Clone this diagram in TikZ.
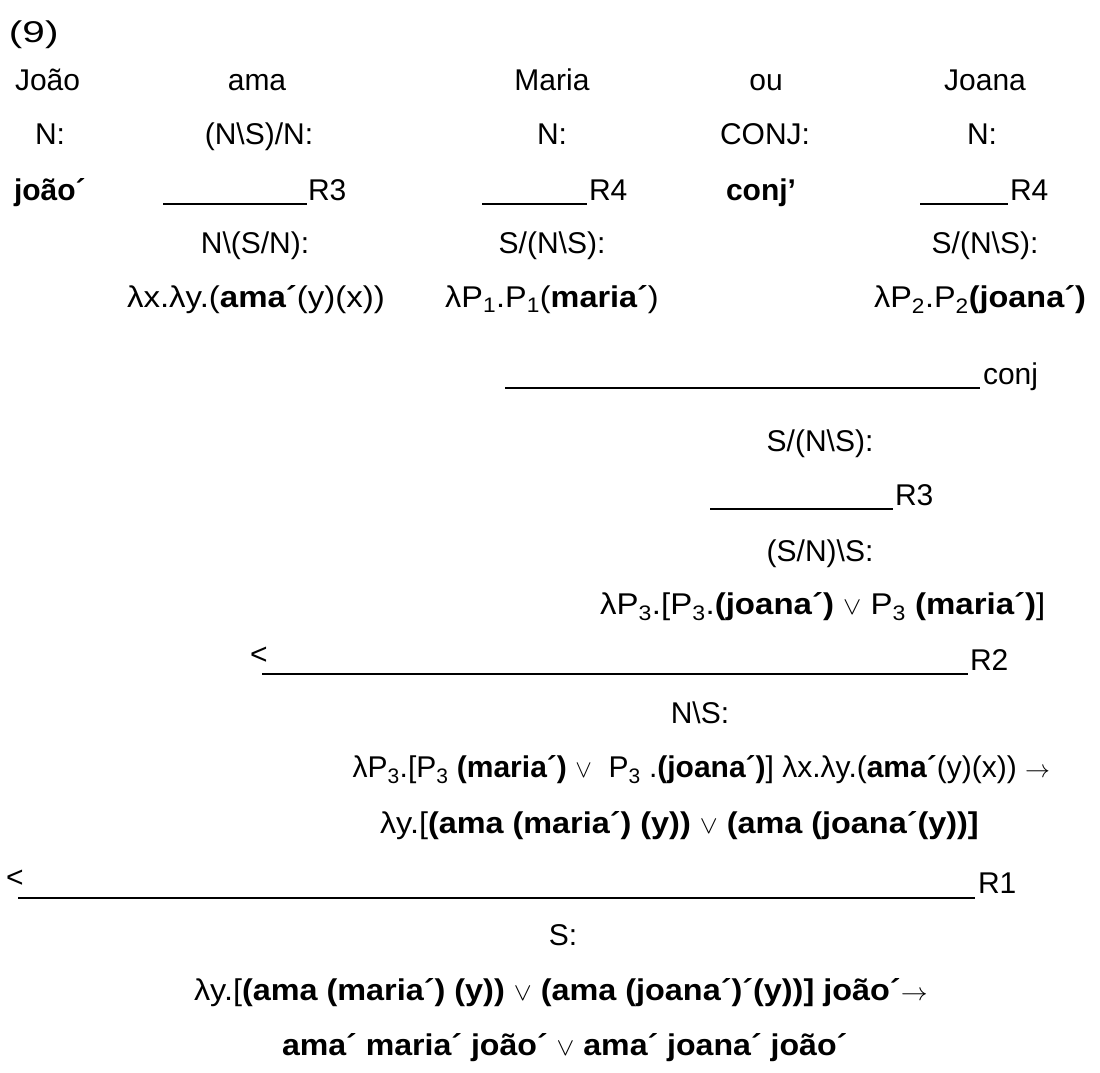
\documentclass[tikz,border=0pt]{standalone}
\usepackage{fontspec}
\usepackage{graphicx}
\setmainfont{Liberation Sans}
\newcommand\orv{\ensuremath{\vee}}
\newcommand\myto{\ensuremath{\rightarrow}}
\newcommand\ac{\char"00B4}
\newcommand\hstretch[2]{\scalebox{#1}[1]{#2}}
\begin{document}
\begin{tikzpicture}[x=1pt,y=-1pt,
  every node/.style={inner sep=0pt,outer sep=0pt,font=\fontsize{30}{34}\selectfont},
  lft/.style={anchor=base west},
  rgt/.style={anchor=base east},
  ctr/.style={anchor=base},
  rulel/.style={line width=1.8pt}]
\useasboundingbox (0,0) rectangle (1100,1072);

% example number
\node[lft] (num) at (9,42) {\hstretch{1.35}{(9)}};

% words
\node[lft] (w1) at (15,90) {João};
\node[ctr] (w2) at (257,90) {ama};
\node[ctr] (w3) at (552,90) {Maria};
\node[ctr] (w4) at (766,90) {ou};
\node[ctr] (w5) at (985,90) {Joana};

% lexical categories
\node[ctr] (c1) at (50,144) {N:};
\node[ctr] (c2) at (259,144) {(N\textbackslash S)/N:};
\node[ctr] (c3) at (552,144) {N:};
\node[ctr] (c4) at (765,144) {CONJ:};
\node[ctr] (c5) at (982,144) {N:};

% lexical semantics and first rule lines
\node[lft] (s1) at (14,200) {\textbf{joão\ac}};
\node[ctr] (s4) at (761,200) {\textbf{conj’}};
\coordinate (r3a) at (163,204);
\coordinate (r3b) at (307,204);
\draw[rulel] (r3a) -- (r3b);
\node[lft] (l3a) at (308,200) {R3};
\coordinate (r4a) at (482,204);
\coordinate (r4b) at (587,204);
\draw[rulel] (r4a) -- (r4b);
\node[lft] (l4a) at (589,200) {R4};
\coordinate (r4c) at (920,204);
\coordinate (r4d) at (1008,204);
\draw[rulel] (r4c) -- (r4d);
\node[lft] (l4b) at (1010,200) {R4};

% raised categories
\node[ctr] (t2) at (255,253) {N\textbackslash(S/N):};
\node[ctr] (t3) at (552,253) {S/(N\textbackslash S):};
\node[ctr] (t5) at (985,253) {S/(N\textbackslash S):};

\node[ctr] (m2) at (256,307) {\hstretch{1.1}{λx.λy.(\textbf{ama\ac}(y)(x))}};
\node[ctr] (m3) at (552,307) {\hstretch{1.08}{λP\textsubscript{1}.P\textsubscript{1}(\textbf{maria\ac})}};
\node[ctr] (m5) at (980,307) {\hstretch{1.08}{λP\textsubscript{2}.P\textsubscript{2}\textbf{(joana\ac)}}};

% coordination
\coordinate (cja) at (505,388);
\coordinate (cjb) at (980,388);
\draw[rulel] (cja) -- (cjb);
\node[lft] (lcj) at (983,384) {conj};
\node[ctr] (k1) at (820,451) {S/(N\textbackslash S):};

\coordinate (r3c) at (710,509);
\coordinate (r3d) at (893,509);
\draw[rulel] (r3c) -- (r3d);
\node[lft] (l3b) at (895,505) {R3};
\node[ctr] (k2) at (820,561) {(S/N)\textbackslash S:};
\node[lft] (k3) at (600,614) {\hstretch{1.1}{λP\textsubscript{3}.[P\textsubscript{3}.\textbf{(joana\ac)} \orv{} P\textsubscript{3} \textbf{(maria\ac)}]}};

% backward application to the verb
\node[lft] (lt2) at (250,664) {<};
\coordinate (r2a) at (262,674);
\coordinate (r2b) at (968,674);
\draw[rulel] (r2a) -- (r2b);
\node[lft] (l2) at (970,670) {R2};
\node[ctr] (v1) at (700,723) {N\textbackslash S:};
\node[rgt] (v2) at (1050,777) {λP\textsubscript{3}.[P\textsubscript{3} \textbf{(maria\ac)} \orv{}\ \ P\textsubscript{3} .\textbf{(joana\ac)}] λx.λy.(\textbf{ama\ac}(y)(x)) \myto};
\node[lft] (v3) at (380,833) {\hstretch{1.08}{λy.[\textbf{(ama (maria\ac) (y))} \orv{} \textbf{(ama (joana\ac(y))]}}};

% backward application to the subject
\node[lft] (lt1) at (6,887) {<};
\coordinate (r1a) at (18,898);
\coordinate (r1b) at (975,898);
\draw[rulel] (r1a) -- (r1b);
\node[lft] (l1) at (978,893) {R1};
\node[ctr] (f1) at (563,945) {S:};
\node[lft] (f2) at (194,1000) {\hstretch{1.08}{λy.[\textbf{(ama (maria\ac) (y))} \orv{} \textbf{(ama (joana\ac)\ac(y))] joão\ac}\myto}};
\node[lft] (f3) at (282,1055) {\hstretch{1.07}{\textbf{ama\ac{} maria\ac{} joão\ac{}} \orv{} \textbf{ama\ac{} joana\ac{} joão\ac}}};
\end{tikzpicture}
\end{document}
